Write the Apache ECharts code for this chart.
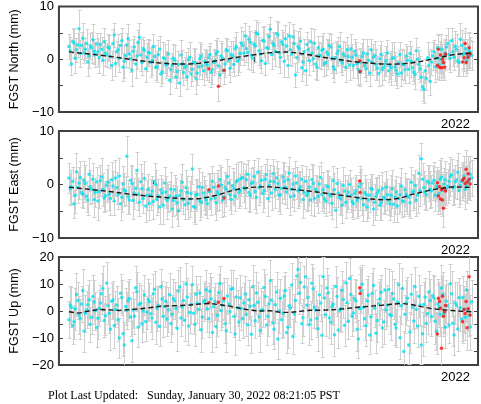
<!DOCTYPE html>
<html><head><meta charset="utf-8">
<script src="https://cdn.jsdelivr.net/npm/echarts@6/dist/echarts.min.js"></script>
<style>html,body{margin:0;padding:0;background:#fff}#c{width:481px;height:404px}</style>
</head><body><div id="c"></div>
<script>
// ---- time base (regular GPS solution sampling, decimal years) ----
// set A: epochStart + i*epochStep ; set B: offset by half a step
const epochStart = 2018.16;
const epochStep = 0.025;

// ---- North (mm) ----
const northVals = [
 2.4,-0.9,3.1,1.8,5.8,2.6,1.2,3.0,0.6,2.2,1.5,2.9,0.3,1.9,3.3,0.8,
 2.1,-1.2,4.6,1.4,0.2,3.5,-0.4,2.7,1.0,-2.1,2.3,0.6,4.1,-0.6,1.7,0.4,
 1.2,-0.3,0.5,-1.4,1.9,-2.4,0.1,-0.8,
 -4.0,-1.2,-0.2,-2.3,-4.5,-0.9,-1.6,-3.3,0.4,-1.9,-0.7,-2.6,0.1,-1.3,-0.4,
 -1.1,0.9,-2.0,-0.3,1.4,-3.0,0.2,-0.9,1.6,-1.7,0.5,2.0,-0.4,1.1,2.6,
 4.4,1.3,3.2,0.2,2.5,4.8,1.0,3.6,-0.8,2.1,5.7,3.0,1.5,4.6,0.4,2.8,3.9,-1.2,1.8,4.2,-3.0,2.4,3.4,-0.5,
 -2.2,1.8,3.3,0.1,-0.9,2.2,0.6,
 1.9,-0.6,0.9,2.3,-1.4,0.3,1.6,-0.2,1.0,-1.5,0.5,2.0,
 -1.2,0.8,-2.0,-0.5,1.2,-1.8,-0.2,1.8,0.4,-1.0,-2.7,0.9,-1.5,-0.3,-2.2,
 -1.6,0.3,-2.1,-0.7,-2.6,-1.1,0.6,-1.9,-0.4,-2.4,1.6,-1.0,
 -3.4,-5.7,-3.6,-1.2,
 -0.5,1.4,0.2,-1.0,1.9,0.6,2.3,0.9,
 3.5,0.4,1.8,-0.6,2.6,1.1,-0.2,1.6,0.7
];
const northErr = [
 2.4,2.1,2.8,2.3,3.6,2.5,2.0,2.7,2.2,2.9,2.4,2.1,3.0,2.3,2.6,2.2,
 2.5,2.8,2.3,2.0,2.7,2.4,3.1,2.2,2.6,2.9,2.1,2.5,2.8,2.3,2.0,2.6,
 2.4,2.7,2.2,3.0,2.5,2.1,2.8,2.3,2.6,2.4,2.9,2.2,2.5,2.7,2.0,2.4,
 2.8,2.3,2.6,2.2,3.1,2.5,2.4,2.9,2.1,2.7,2.3,2.6,2.0,2.8,2.4,2.2,
 2.6,2.9,2.3,2.5,2.1,2.8,2.4,3.2,2.2,2.6,3.0,2.3,2.7,2.5,2.1,2.9,
 2.4,2.2,2.7,2.5,3.0,2.3,2.6,2.1,2.8,2.4,2.2,2.9,2.5,2.3,2.7,2.0,
 2.6,2.4,2.8,2.2,2.5,3.1,2.3,2.7,2.4,2.1,2.9,2.6,2.3,2.5,2.8,2.2,
 2.7,2.3,2.5,2.9,2.2,2.6,2.4,2.8,2.1,2.5,3.0,2.3,2.6,2.4,2.8,2.2,
 3.2,3.0,2.7,2.5,2.4,2.8,2.2,2.6,2.9,2.3,2.5,2.7,2.4,2.6,2.3,2.8,
 2.5,2.2,2.7,2.4,2.9,2.6,2.3,2.8,2.5,2.4,3.0,2.6,2.9,2.7,2.5,3.3,2.8
];
const northValsB = [
 1.6,3.4,0.2,2.7,1.1,4.0,1.9,-0.5,2.5,3.7,0.9,1.4,2.8,-0.2,1.2,2.3,
 0.5,3.0,-0.8,1.8,2.6,-1.5,0.7,3.9,0.1,1.5,-0.9,3.2,0.8,2.0,-1.8,1.3,
 -0.6,2.4,-1.5,0.9,-2.8,0.3,-1.1,1.0,
 -2.0,0.2,-3.4,-1.0,0.8,-2.5,-1.3,-0.1,-2.8,-0.5,-3.7,-1.4,0.6,-2.2,-0.8,
 0.3,-2.5,-0.6,1.0,-1.3,0.6,-2.2,1.8,-0.2,0.9,-1.0,2.4,0.0,3.1,1.2,
 2.0,3.8,0.7,2.9,5.0,1.6,-0.3,3.4,2.2,4.3,0.9,2.6,4.9,1.2,3.3,-0.4,2.5,4.4,1.0,3.0,0.3,2.0,-1.6,1.4,
 2.8,-0.3,1.2,3.0,-1.5,0.8,1.7,
 -0.9,1.3,2.6,0.2,-1.9,1.1,2.4,-0.7,0.6,1.8,-1.1,0.4,
 1.5,-0.8,-2.4,0.5,-1.2,1.0,-2.6,-0.5,0.7,-1.7,0.1,-2.0,-0.9,1.2,-1.3,
 0.2,-1.4,-2.8,0.9,-0.9,-2.0,-0.2,1.1,-1.6,-2.9,0.0,-1.8,
 -5.2,-2.2,0.3,-4.2,
 0.6,-1.4,2.2,0.0,-0.7,1.2,3.0,0.2,
 1.4,2.4,-0.3,3.8,0.9,2.0,0.5,1.3
];
const northErrB = [
 2.6,2.3,2.9,2.2,2.5,2.8,2.1,2.7,2.4,3.0,2.3,2.6,2.2,2.8,2.5,2.4,
 2.2,2.7,2.4,2.9,2.3,2.6,2.1,2.8,2.5,2.3,2.7,2.4,3.0,2.2,2.6,2.5,
 2.7,2.3,2.5,2.8,2.2,2.9,2.4,2.6,2.3,2.7,2.1,2.5,2.8,2.4,2.6,2.2,
 2.3,2.6,2.9,2.4,2.2,2.7,2.5,2.3,2.8,2.4,2.6,2.2,2.9,2.5,2.3,2.7,
 2.5,2.2,2.7,2.4,3.0,2.3,2.6,2.5,2.8,2.2,2.4,2.7,2.3,2.9,2.6,2.4,
 2.8,2.5,2.3,2.6,2.2,2.9,2.4,2.7,2.3,2.5,2.8,2.2,2.6,2.4,2.3,2.7,
 2.3,2.7,2.5,2.4,2.8,2.2,2.6,2.3,2.9,2.5,2.4,2.7,2.2,2.6,2.5,2.8,
 2.5,2.4,2.8,2.3,2.6,2.2,2.9,2.5,2.4,2.7,2.3,2.6,2.8,2.2,2.5,2.4,
 3.1,2.8,2.6,2.4,2.9,2.5,2.7,2.3,2.6,2.8,2.4,2.5,2.7,2.3,2.9,2.6,
 2.7,2.9,2.4,2.6,2.8,2.5,3.0,2.7,2.6,2.9,2.8,3.1,2.7,2.9,2.6,3.0
];

// ---- East (mm) ----
const eastVals = [
 1.2,-0.4,-3.6,2.4,0.3,-1.5,0.8,-2.2,1.9,-0.9,-2.8,0.5,-1.3,1.4,-2.5,-0.2,
 -1.8,0.9,-3.1,-0.6,1.6,-2.4,-1.0,5.3,-2.9,0.2,-1.6,2.6,-3.3,-0.8,1.1,-2.0,
 -3.5,-1.2,0.6,-2.8,-4.2,-1.6,0.3,-3.0,
 -2.2,-4.6,-1.0,-3.4,-2.0,0.4,-3.8,-1.5,-2.7,2.9,-4.3,-1.8,-3.1,-0.5,-2.4,
 -3.6,-1.2,0.6,-2.5,-1.4,0.9,-3.0,-0.6,1.5,-1.9,-0.2,-2.2,0.8,-1.1,1.3,
 -0.8,1.9,-2.0,0.4,-1.3,2.3,-0.3,-1.7,1.0,-2.6,0.6,2.0,-1.0,0.2,-1.9,1.4,-0.5,0.9,-2.3,0.1,1.6,-1.2,-0.4,-2.8,
 0.6,-1.6,-2.9,0.2,-0.9,-2.2,1.3,
 -1.0,-3.1,-0.4,-2.2,0.7,-4.8,-1.6,-2.7,-0.2,-3.3,-1.4,-2.0,
 -3.6,-1.2,-2.5,0.2,-3.8,-1.9,-2.9,-0.7,-4.6,-2.2,-1.1,-3.4,-2.4,-0.5,-3.0,
 -2.0,-3.7,-1.4,-2.6,-0.3,-3.2,-1.8,-2.4,0.4,-1.2,-2.9,2.1,
 4.8,-0.6,-1.9,0.3,
 -1.2,0.8,-0.3,-1.7,1.4,0.1,-0.8,0.6,
 1.8,-0.4,0.9,-1.1,0.5,1.6,-0.2,0.7,1.2
];
const eastErr = [
 2.8,3.2,2.6,3.4,3.0,2.7,3.5,2.9,3.1,2.6,3.3,2.8,3.0,3.6,2.7,3.1,
 2.9,3.3,2.6,3.0,3.4,2.8,3.1,3.8,2.7,3.2,2.9,3.5,2.6,3.0,3.3,2.8,
 3.1,2.7,3.4,2.9,3.2,2.6,3.0,3.5,2.8,3.3,2.7,3.1,2.9,3.4,2.6,3.0,
 3.3,2.8,3.1,2.7,3.6,2.9,3.2,2.6,3.4,2.8,3.0,3.5,2.7,3.1,2.9,3.3,
 2.9,3.2,2.7,3.4,3.0,2.8,3.5,2.6,3.1,2.9,3.3,2.7,3.0,3.4,2.8,3.2,
 3.0,2.7,3.3,2.9,3.6,2.8,3.1,2.6,3.4,3.0,2.7,3.2,2.9,3.5,2.8,3.1,
 2.8,3.4,2.6,3.1,2.9,3.3,2.7,3.0,3.5,2.8,3.2,2.6,3.0,3.4,2.9,3.1,
 3.2,2.8,3.0,3.4,2.7,3.1,2.9,3.3,2.6,3.0,3.5,2.8,3.2,2.9,3.1,2.7,
 3.8,3.4,3.0,2.9,3.3,2.7,3.1,3.5,2.8,3.2,3.0,3.4,2.9,3.1,2.8,3.3,
 3.0,3.4,2.8,3.2,3.6,2.9,3.1,3.5,3.0,3.3,3.7,3.1,3.4,3.8,3.2,3.6,3.4
];
const eastValsB = [
 -0.8,0.6,-2.0,-0.5,1.3,-1.8,0.2,-2.9,-0.4,1.0,-1.5,-3.1,0.7,-0.9,-2.1,0.4,
 -2.6,-0.3,1.2,-1.9,-3.6,0.1,-1.2,-2.3,0.8,-3.0,-0.7,-1.8,0.5,-2.6,-4.0,-0.9,
 -1.9,-3.2,0.0,-2.1,-1.0,-3.9,-1.4,-2.5,
 -0.9,-3.0,-2.2,-4.9,-1.2,-2.8,-0.6,-3.5,-1.7,-4.1,-2.0,-0.4,-3.3,-1.6,-2.9,
 -1.3,-2.7,-0.5,-3.4,-1.8,-0.1,-2.3,-1.0,0.3,-2.8,-0.8,0.5,-1.5,1.1,-0.6,
 0.9,-1.5,0.2,1.5,-2.4,-0.6,0.8,-1.1,1.8,-0.2,-1.6,0.5,1.2,-2.0,-0.7,0.6,-1.4,2.1,-0.9,-2.1,0.3,-0.8,1.0,-1.5,
 -2.0,-0.5,0.9,-2.6,-1.3,0.1,-1.9,
 -2.6,-0.3,-1.8,-3.5,-1.0,0.2,-2.4,-3.9,-1.2,-2.1,0.0,-3.2,
 -1.7,-3.0,-0.4,-2.7,-1.5,-4.2,-2.0,-0.9,-3.3,-1.6,-3.9,-0.8,-2.6,-1.9,-3.6,
 -0.8,-2.4,-4.0,-1.9,-3.1,-1.0,-2.2,-3.4,-1.5,-0.2,-2.0,-1.1,
 1.0,-1.4,0.6,-0.9,
 0.3,-2.0,-0.5,1.0,-1.1,0.9,-0.3,1.5,
 -0.6,0.5,2.3,-0.2,1.0,-0.9,0.4,1.9
];
const eastErrB = [
 3.0,2.7,3.3,2.9,3.1,2.6,3.4,2.8,3.2,3.0,2.7,3.5,2.9,3.1,2.8,3.3,
 3.1,2.8,3.4,2.7,3.0,3.3,2.6,3.2,2.9,3.5,2.8,3.0,3.3,2.7,3.1,2.9,
 2.9,3.3,2.7,3.1,2.8,3.4,3.0,2.6,3.2,2.9,3.5,2.8,3.1,2.7,3.3,3.0,
 3.2,2.9,3.0,3.4,2.7,3.1,2.8,3.3,3.0,2.6,3.2,2.9,3.4,2.8,3.0,3.1,
 2.8,3.1,3.3,2.9,3.2,2.7,3.0,3.4,2.8,3.1,2.9,3.3,2.6,3.2,3.0,2.9,
 3.1,2.9,3.2,3.0,2.7,3.4,2.9,3.1,3.3,2.8,3.0,3.2,2.7,3.1,2.9,3.4,
 3.0,3.2,2.8,3.3,3.1,2.7,3.0,3.4,2.9,3.2,2.8,3.1,3.3,2.9,3.0,2.8,
 2.9,3.1,3.3,2.8,3.0,3.2,2.7,3.1,2.9,3.4,3.0,2.8,3.2,3.0,2.9,3.1,
 3.5,3.2,3.0,3.3,2.9,3.1,3.4,2.8,3.2,3.0,3.3,2.9,3.1,3.2,3.0,3.4,
 3.2,3.0,3.3,3.5,3.1,3.4,3.2,3.6,3.3,3.1,3.5,3.4,3.2,3.6,3.3,3.5
];

// ---- Up (mm) ----
const upVals = [
 -3.2,1.4,-4.0,6.1,-1.5,2.6,-7.4,0.5,4.2,-2.3,3.3,-6.1,1.0,6.4,-3.5,10.4,
 -0.8,3.6,-5.4,2.1,-10.0,5.0,-12.6,0.3,4.6,-11.0,-1.9,7.2,2.4,-4.8,5.9,-0.5,
 3.4,-2.6,8.1,0.9,-5.7,4.4,1.7,-3.0,
 6.0,-1.2,3.8,-6.5,8.9,1.5,-3.4,5.2,-0.6,9.8,-4.9,2.9,6.7,-2.2,4.0,
 0.8,7.3,-8.0,3.5,-1.6,10.2,2.1,-4.7,5.6,-0.3,8.4,-8.5,1.2,4.9,-2.8,
 6.3,-5.1,1.8,9.0,-3.6,3.2,-7.2,0.6,5.4,-1.9,11.2,-4.4,2.3,-10.4,4.7,-0.9,7.6,-6.0,1.1,-9.4,3.9,15.4,10.6,-2.5,
 12.7,5.0,-3.3,8.2,0.4,-6.6,3.0,
 12.7,-1.4,6.8,-4.2,2.5,9.1,-7.0,0.9,4.3,10.5,-3.8,6.1,
 -0.7,3.8,-10.4,7.5,1.3,-5.5,5.8,-2.1,9.4,-8.2,2.7,6.9,-4.1,0.5,8.0,
 -1.8,4.4,-6.3,9.7,1.9,-15.0,3.1,-12.6,6.2,-3.7,0.6,5.5,
 -12.6,2.4,-4.6,7.1,
 -2.0,4.8,-7.5,1.5,8.5,-0.8,3.6,-5.2,
 6.4,-8.9,2.0,4.9,-3.1,0.7,7.8,-1.6,3.3
];
const upErr = [
 6.8,7.4,6.2,8.1,7.0,6.5,7.8,6.9,7.3,6.4,8.0,7.1,6.7,7.6,6.3,7.9,
 7.2,6.6,8.3,7.0,7.5,6.4,8.6,6.9,7.3,7.8,6.5,7.1,8.0,6.8,7.4,6.2,
 7.0,7.7,6.6,8.2,7.1,6.8,7.5,6.3,7.9,7.2,6.9,8.4,7.3,6.5,7.6,7.0,
 7.4,6.7,8.0,7.2,6.4,7.8,7.0,8.5,6.6,7.3,6.9,7.7,6.5,8.1,7.1,6.8,
 7.5,6.9,7.9,6.6,8.3,7.2,6.8,7.6,7.0,8.1,6.5,7.4,7.8,6.7,8.2,7.3,
 7.6,8.0,6.8,7.4,7.1,8.6,6.9,7.7,7.2,6.6,8.1,7.0,7.5,6.8,7.9,7.3,
 6.9,7.6,7.1,8.3,6.7,7.4,7.9,6.5,8.0,7.2,7.5,6.8,8.4,7.0,7.7,6.6,
 7.3,6.8,7.8,7.1,8.2,6.9,7.5,7.0,8.6,6.7,7.4,7.9,6.6,8.1,7.2,7.6,
 8.8,7.5,7.1,7.9,6.8,7.6,8.2,7.0,7.4,8.0,6.9,7.7,7.2,8.3,6.7,7.8,
 7.4,8.1,7.0,7.6,8.5,7.2,7.9,6.8,8.3,7.5,8.8,7.3,8.0,8.6,7.1,7.7,8.2
];
const upValsB = [
 2.2,-5.5,0.8,3.9,-2.8,7.6,-0.9,2.3,-4.9,5.4,0.1,-2.7,3.0,8.3,-1.8,1.9,
 -6.8,4.1,0.6,-3.2,6.6,-8.4,1.7,3.8,-2.2,0.4,8.6,-6.0,2.9,0.0,-3.9,4.3,
 -1.0,6.4,-4.2,2.0,9.0,-1.9,3.6,0.5,
 -4.6,4.5,1.0,7.4,-2.6,3.9,10.0,-5.6,2.4,-0.8,6.2,0.6,-6.9,3.3,7.9,
 -2.9,4.4,1.6,-5.8,6.8,0.2,3.7,-7.3,2.6,8.1,-2.0,5.2,-4.1,0.9,3.0,
 -1.3,4.2,-8.6,2.0,6.7,-2.1,0.3,8.7,-5.2,2.7,4.1,-6.8,7.0,0.1,-3.2,5.6,-8.0,1.9,9.6,-1.1,13.0,6.6,-4.7,8.9,
 2.1,-5.0,10.3,1.5,-2.8,6.0,-9.0,
 4.8,8.5,-2.6,1.7,-8.8,5.4,0.2,7.7,-5.3,3.1,12.0,-1.9,
 4.6,-6.8,0.8,9.9,-2.9,3.7,-8.9,6.6,1.0,-3.5,4.4,-6.3,7.8,2.1,-1.3,
 6.5,-4.9,3.3,-9.9,8.3,-1.2,4.7,-7.8,1.4,9.0,-5.6,2.2,
 -8.4,5.2,-1.0,3.9,
 5.7,-3.9,2.6,-1.2,6.1,-6.0,1.9,10.1,
 -4.5,3.0,-6.7,1.2,5.1,-2.3,0.4,-5.9
];
const upErrB = [
 7.1,6.6,7.7,6.9,7.4,8.0,6.7,7.3,6.5,7.9,7.0,7.5,6.8,8.2,7.2,6.6,
 7.6,7.0,6.7,7.9,7.2,8.4,6.9,7.4,7.0,6.6,8.1,7.3,6.8,7.7,7.1,7.5,
 6.9,7.4,8.0,7.1,6.7,7.6,7.2,8.3,6.8,7.5,7.0,7.8,6.6,7.3,7.9,7.1,
 7.3,7.8,6.9,7.5,8.1,7.0,7.4,6.7,8.2,7.2,7.6,6.9,7.4,7.0,7.7,7.2,
 7.0,7.6,7.2,6.8,7.9,7.4,8.0,7.1,6.9,7.5,7.8,7.2,8.3,6.9,7.4,7.7,
 7.8,7.2,7.5,8.1,6.9,7.3,7.7,7.0,8.2,7.4,6.8,7.6,7.1,7.9,7.3,7.5,
 7.2,7.7,6.9,7.4,8.0,7.1,7.6,7.3,6.8,7.9,7.2,8.1,7.0,7.5,7.3,7.8,
 7.5,7.1,7.9,7.3,7.0,7.7,8.3,7.2,7.6,6.9,7.8,7.4,7.1,8.0,7.5,7.2,
 8.5,7.7,7.3,8.0,7.5,7.1,7.9,7.6,8.1,7.2,7.8,7.4,8.2,7.0,7.7,7.9,
 7.8,8.2,7.5,7.9,8.4,7.6,8.0,7.3,8.6,7.7,8.1,8.5,7.8,8.3,7.9,8.4
];

// ---- rapid (red) solutions ----
const redTimes = [2019.55,2019.645,2019.70,2021.048,2021.052,2021.820,2021.830,2021.840,2021.850,2021.860,2021.870,2021.880,2021.890,2021.900,2022.070,2022.085,2022.095,2022.105,2022.115,2022.125,2022.135,2022.145];
const northRed = [-1.8,-5.1,-2.1,-0.3,-2.3,-1.2,1.9,-1.5,0.8,-1.6,0.0,-0.6,-1.5,1.0,-0.5,0.3,3.0,-0.6,1.0,0.4,2.2,1.0];
const northRedErr = [2.6,2.8,2.5,2.4,2.7,2.6,2.9,2.5,2.7,2.4,2.8,2.6,2.5,2.9,2.7,2.5,3.0,2.6,2.8,2.5,2.9,2.7];
const eastRed = [-1.0,-0.3,-2.5,0.65,-1.5,0.35,-2.15,-0.4,-2.7,-1.0,-2.9,-4.45,-0.7,-1.2,0.8,1.15,0.2,2.85,0.5,2.0,1.0,0.1];
const eastRedErr = [3.1,3.0,3.3,2.9,3.2,3.0,3.4,3.1,2.9,3.3,3.0,3.5,3.1,3.2,3.4,3.0,3.3,3.6,3.1,3.4,3.2,3.0];
const upRed = [3.1,3.2,4.6,8.6,6.5,-8.5,4.7,3.5,1.0,-13.8,5.5,-1.9,-0.3,2.0,-4.0,0.6,-0.9,3.5,-6.2,0.8,12.7,-1.5];
const upRedErr = [7.2,7.0,7.5,7.8,7.3,7.6,7.1,7.4,7.0,8.0,7.5,7.2,7.3,7.7,7.9,7.4,7.1,7.6,8.1,7.3,8.4,7.5];

// ---- model (dashed) sampled every 0.1 yr from 2018.16 ----
const modelStart = 2018.16, modelStep = 0.1;
const northModel = [1.4,1.2,1.0,0.8,0.55,0.3,0.0,-0.25,-0.5,-0.7,-0.85,-0.9,-0.9,-0.75,-0.5,-0.2,0.15,0.45,0.75,1.0,1.25,1.4,1.35,1.1,0.8,0.45,0.15,-0.1,-0.4,-0.6,-0.75,-0.9,-0.95,-0.9,-0.7,-0.4,0.0,0.4,0.8,1.05,1.2];
const eastModel = [-0.5,-0.7,-0.9,-1.1,-1.3,-1.55,-1.8,-2.0,-2.2,-2.35,-2.5,-2.6,-2.7,-2.65,-2.3,-1.85,-1.25,-0.8,-0.55,-0.45,-0.45,-0.6,-0.85,-1.05,-1.25,-1.5,-1.75,-2.0,-2.3,-2.55,-2.7,-2.85,-2.8,-2.5,-1.9,-1.45,-1.0,-0.7,-0.45,-0.5,-0.55];
const upModel = [-0.3,-0.8,0.0,0.6,0.4,0.2,0.5,0.8,1.2,1.7,1.9,2.0,2.2,2.6,2.8,2.3,1.8,1.0,0.3,0.0,0.1,-0.5,-0.5,-0.1,0.3,0.3,0.4,0.7,1.1,1.5,1.8,2.1,2.5,2.8,2.4,1.6,0.9,0.5,0.2,-0.1,-0.3];

// ---- axes ----
const yLimits = [[-10,10],[-10,10],[-20,20]];
const yNames = ['FGST North (mm)','FGST East (mm)','FGST Up (mm)'];
const yearTicks = [2019,2020,2021,2022];
const yearLabels = [2022];
const xMin = 2018.061, xMax = 2022.223;
const footerText = 'Plot Last Updated:   Sunday, January 30, 2022 08:21:05 PST';

const panels = [
  {vals:northVals, err:northErr, valsB:northValsB, errB:northErrB, red:northRed, redErr:northRedErr, model:northModel},
  {vals:eastVals, err:eastErr, valsB:eastValsB, errB:eastErrB, red:eastRed, redErr:eastRedErr, model:eastModel},
  {vals:upVals, err:upErr, valsB:upValsB, errB:upErrB, red:upRed, redErr:upRedErr, model:upModel}
];
const gridTops = [5,131,257], gridHeights = [107,107,108];

const FRAME = '#404040';
const epochA = i => +(epochStart + i*epochStep).toFixed(4);
const epochB = i => +(epochStart + (i+0.5)*epochStep).toFixed(4);
const mTimes = northModel.map((_,i)=>+(modelStart+i*modelStep).toFixed(4));

function errRender(params, api){
  const x = api.value(0), y = api.value(1), s = api.value(2);
  if (isNaN(s) || isNaN(y)) return null;
  const t = api.coord([x, y+s]), b = api.coord([x, y-s]);
  const px = Math.round(t[0]) + 0.5, hw = 2;
  const st = {stroke:'#d0d0d0', lineWidth:1};
  const ty = Math.round(t[1])+0.5, by = Math.round(b[1])+0.5;
  return {type:'group', children:[
    {type:'line', shape:{x1:px,y1:ty,x2:px,y2:by}, style:st},
    {type:'line', shape:{x1:px-hw,y1:ty,x2:px+hw,y2:ty}, style:st},
    {type:'line', shape:{x1:px-hw,y1:by,x2:px+hw,y2:by}, style:st}
  ]};
}
function fmt(v){ if (v % 10 !== 0) return ''; return v<0 ? '\u2212'+Math.abs(v) : String(v); }

const grid=[], xAxis=[], yAxis=[], series=[];
panels.forEach((p,g)=>{
  grid.push({left:48, top:gridTops[g], width:430, height:gridHeights[g], show:true, borderColor:FRAME, borderWidth:2, backgroundColor:'transparent'});
  const tick = {show:true, inside:true, length:4, customValues:yearTicks, lineStyle:{color:FRAME, width:1}};
  xAxis.push({type:'value', gridIndex:g, min:xMin, max:xMax, position:'bottom',
    axisLine:{show:false}, splitLine:{show:false}, axisTick:tick,
    axisLabel:{customValues:yearLabels, fontSize:13, color:'#000', margin:6, fontFamily:'Liberation Sans', formatter:v=>String(Math.round(v))}});
  xAxis.push({type:'value', gridIndex:g, min:xMin, max:xMax, position:'top',
    axisLine:{show:false}, splitLine:{show:false}, axisTick:tick, axisLabel:{show:false}});
  const ytick = {show:true, inside:true, length:4, lineStyle:{color:FRAME, width:1}};
  yAxis.push({type:'value', gridIndex:g, min:yLimits[g][0], max:yLimits[g][1], interval:5, position:'left',
    axisLine:{show:false}, splitLine:{show:false}, axisTick:ytick,
    axisLabel:{formatter:fmt, fontSize:13, color:'#000', margin:5, fontFamily:'Liberation Sans'},
    name:yNames[g], nameLocation:'middle', nameGap:36, nameRotate:90,
    nameTextStyle:{fontSize:12.5, color:'#000', fontFamily:'Liberation Sans'}});
  yAxis.push({type:'value', gridIndex:g, min:yLimits[g][0], max:yLimits[g][1], interval:5, position:'right',
    axisLine:{show:false}, splitLine:{show:false}, axisTick:ytick, axisLabel:{show:false}});
  const xi = 2*g, yi = 2*g;
  const cyanData = p.vals.map((v,i)=>[epochA(i), v, p.err[i]])
    .concat(p.valsB.map((v,i)=>[epochB(i), v, p.errB[i]]))
    .sort((a,b)=>a[0]-b[0]);
  const redData = redTimes.map((t,i)=>[t, p.red[i], p.redErr[i]]);
  series.push({type:'custom', xAxisIndex:xi, yAxisIndex:yi, renderItem:errRender, data:cyanData.concat(redData), encode:{x:0,y:1}, clip:true, silent:true, z:1});
  series.push({type:'scatter', xAxisIndex:xi, yAxisIndex:yi, data:cyanData.map(d=>[d[0],d[1]]), symbol:'circle', symbolSize:3.5, itemStyle:{color:'#00e2f0'}, silent:true, z:2});
  series.push({type:'scatter', xAxisIndex:xi, yAxisIndex:yi, data:redData.map(d=>[d[0],d[1]]), symbol:'circle', symbolSize:3.5, itemStyle:{color:'#ff0a0a'}, silent:true, z:3});
  series.push({type:'line', xAxisIndex:xi, yAxisIndex:yi, data:mTimes.map((t,i)=>[t,p.model[i]]), showSymbol:false, lineStyle:{color:'#1a1a1a', width:1.4, type:[5,3]}, silent:true, z:4});
});

const chart = echarts.init(document.getElementById('c'), null, {renderer:'canvas'});
chart.setOption({
  animation:false, backgroundColor:'#fff',
  grid, xAxis, yAxis, series,
  graphic:[{type:'text', left:48, top:390, style:{text:footerText, font:'12px "Liberation Serif"', fill:'#000'}}]
});
</script></body></html>
